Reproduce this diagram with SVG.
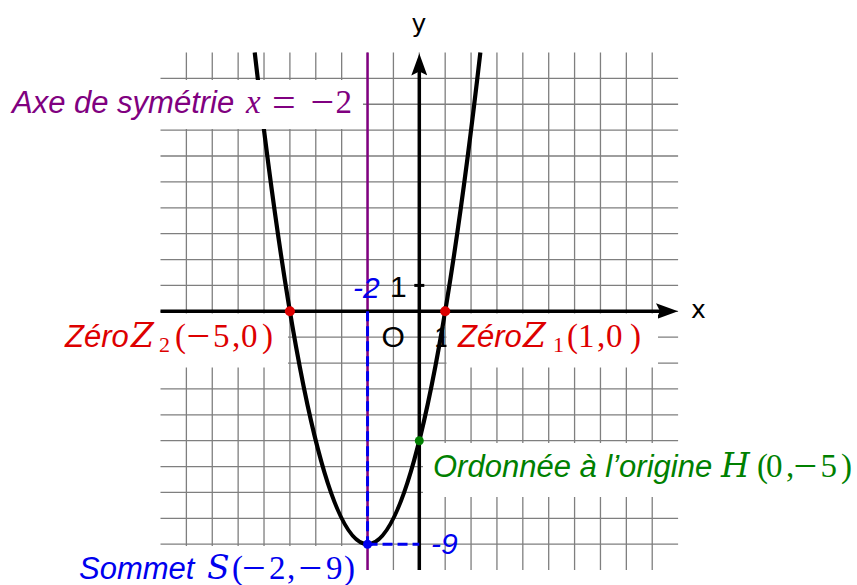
<svg xmlns="http://www.w3.org/2000/svg" width="857" height="585" viewBox="0 0 857 585">
<style>
.g{stroke:#7f7f7f;stroke-width:1.3;fill:none}
.ax{stroke:#000;stroke-width:3.5;fill:none}
.tick{stroke:#000;stroke-width:3;fill:none}
.cv{stroke:#000;stroke-width:4.2;fill:none}
.sym{stroke:#800080;stroke-width:2.5;fill:none}
.dash{stroke:#0000ee;stroke-width:3;stroke-dasharray:10 5;fill:none}
.box{fill:#fff}
.t{font-family:"Liberation Sans",Arial,sans-serif;font-style:italic;font-size:31px}
.n{font-family:"Liberation Sans",Arial,sans-serif;font-size:30px}
.ni{font-family:"Liberation Sans",Arial,sans-serif;font-size:30px;font-style:italic}
.m{font-family:"Liberation Serif","Times New Roman",serif;font-size:33px;font-style:normal}
.mi{font-style:italic}
.sc{font-family:"DejaVu Serif",serif;font-size:33px;font-style:italic}
.sub{font-size:22px}
.op{font-family:"Liberation Serif","Times New Roman",serif;font-size:42px;font-style:normal}
.al{font-family:"DejaVu Sans",sans-serif;font-size:25px}
.purple{fill:#800080}.red{fill:#dd0000}.green{fill:#008000}.blue{fill:#0000ee}
</style>
<defs>
<marker id="arr" viewBox="0 0 22 16" refX="6" refY="8" markerWidth="22" markerHeight="16" markerUnits="userSpaceOnUse" orient="auto">
<path d="M0,0 L22,8 L0,16 L4,8 Z" fill="#000"/>
</marker>
</defs>
<rect width="857" height="585" fill="#fff"/>
<g id="grid" class="g">
<path d="M186.38 52.5V570.1M212.26 52.5V570.1M238.14 52.5V570.1M264.02 52.5V570.1M289.9 52.5V570.1M315.78 52.5V570.1M341.66 52.5V570.1M367.54 52.5V570.1M393.42 52.5V570.1M419.3 52.5V570.1M445.18 52.5V570.1M471.06 52.5V570.1M496.94 52.5V570.1M522.82 52.5V570.1M548.7 52.5V570.1M574.58 52.5V570.1M600.46 52.5V570.1M626.34 52.5V570.1M652.22 52.5V570.1"/>
<path d="M160.5 78.38H678.1M160.5 104.26H678.1M160.5 130.14H678.1M160.5 156.02H678.1M160.5 181.9H678.1M160.5 207.78H678.1M160.5 233.66H678.1M160.5 259.54H678.1M160.5 285.42H678.1M160.5 311.3H678.1M160.5 337.18H678.1M160.5 363.06H678.1M160.5 388.94H678.1M160.5 414.82H678.1M160.5 440.7H678.1M160.5 466.58H678.1M160.5 492.46H678.1M160.5 518.34H678.1M160.5 544.22H678.1"/>
</g>
<g id="connectors">
<line class="sym" x1="367.54" y1="52.5" x2="367.54" y2="570.1"/>
<path id="parabola" class="cv" d="M254.73 52.5 Q367.54 1035.94 480.35 52.5"/>
<line class="ax" x1="160.5" y1="311.3" x2="662" y2="311.3" marker-end="url(#arr)"/>
<line class="ax" x1="419.3" y1="570.1" x2="419.3" y2="69.5" marker-end="url(#arr)"/>
<line class="tick" x1="414.3" y1="285.42" x2="424.3" y2="285.42"/>
<line class="tick" x1="445.18" y1="306.3" x2="445.18" y2="316.3"/>
<path class="dash" d="M367.54 311.3V544.22"/>
<path class="dash" d="M367.54 544.22H419.3"/>
</g>
<g id="ticklabels">
<text class="ni blue" x="353" y="298">-2</text>
<text class="n" x="390" y="297">1</text>
<text class="n" x="381.5" y="347">O</text>
<text class="n" x="434" y="347">1</text>
<text class="ni blue" x="431" y="554">-9</text>
</g>
<g id="label-axe">
<rect class="box" x="4" y="80" width="359" height="49"/>
<text class="t purple" x="12" y="113">Axe de symétrie</text>
<text class="purple"><tspan class="m mi" x="246" y="113">x</tspan><tspan class="op" x="272" y="116">=</tspan><tspan class="op" x="310.5" y="116">−</tspan><tspan class="m" x="335.5" y="113">2</tspan></text>
</g>
<g id="label-z2">
<rect class="box" x="50" y="313.5" width="238" height="54"/>
<text class="t red" x="65" y="347">Zéro</text>
<text class="red"><tspan class="sc" x="131" y="347">Z</tspan><tspan class="m sub" x="159" y="352">2</tspan><tspan class="m" x="175" y="347">(</tspan><tspan class="op" x="186.5" y="350">−</tspan><tspan class="m" x="213" y="347">5</tspan><tspan class="m" x="232" y="347">,</tspan><tspan class="m" x="241" y="347">0</tspan><tspan class="m" x="262" y="347">)</tspan></text>
</g>
<g id="label-z1">
<rect class="box" x="446.5" y="313.5" width="211.5" height="54"/>
<text class="t red" x="458" y="347">Zéro</text>
<text class="red"><tspan class="sc" x="523" y="347">Z</tspan><tspan class="m sub" x="553" y="352">1</tspan><tspan class="m" x="567" y="347">(</tspan><tspan class="m" x="578" y="347">1</tspan><tspan class="m" x="597" y="347">,</tspan><tspan class="m" x="606" y="347">0</tspan><tspan class="m" x="630" y="347">)</tspan></text>
</g>
<g id="label-h">
<rect class="box" x="423" y="443" width="440" height="54"/>
<text class="t green" x="433" y="477">Ordonnée à l’origine</text>
<text class="green"><tspan class="sc" x="721" y="477">H</tspan><tspan class="m" x="757" y="477">(</tspan><tspan class="m" x="766" y="477">0</tspan><tspan class="m" x="786" y="477">,</tspan><tspan class="op" x="793.5" y="480">−</tspan><tspan class="m" x="820.5" y="477">5</tspan><tspan class="m" x="841" y="477">)</tspan></text>
</g>
<g id="label-s">
<rect class="box" x="70" y="546" width="293" height="45"/>
<text class="t blue" x="79" y="579">Sommet</text>
<text class="blue"><tspan class="sc" x="207" y="579">S</tspan><tspan class="m" x="232" y="579">(</tspan><tspan class="op" x="242" y="582">−</tspan><tspan class="m" x="269" y="579">2</tspan><tspan class="m" x="287" y="579">,</tspan><tspan class="op" x="298.5" y="582">−</tspan><tspan class="m" x="326" y="579">9</tspan><tspan class="m" x="344" y="579">)</tspan></text>
</g>
<g id="points">
<circle id="pt-z2" cx="289.9" cy="311.3" r="5" fill="#dd0000"/>
<circle id="pt-z1" cx="445.18" cy="311.3" r="5" fill="#dd0000"/>
<circle id="pt-h" cx="419.3" cy="440.7" r="4.5" fill="#008000"/>
<circle id="pt-s" cx="367.54" cy="544.22" r="4.5" fill="#0000ee"/>
</g>
<g id="axis-names">
<text class="al" x="691" y="318">x</text>
<text class="al" x="419" y="32" text-anchor="middle">y</text>
</g>
</svg>
